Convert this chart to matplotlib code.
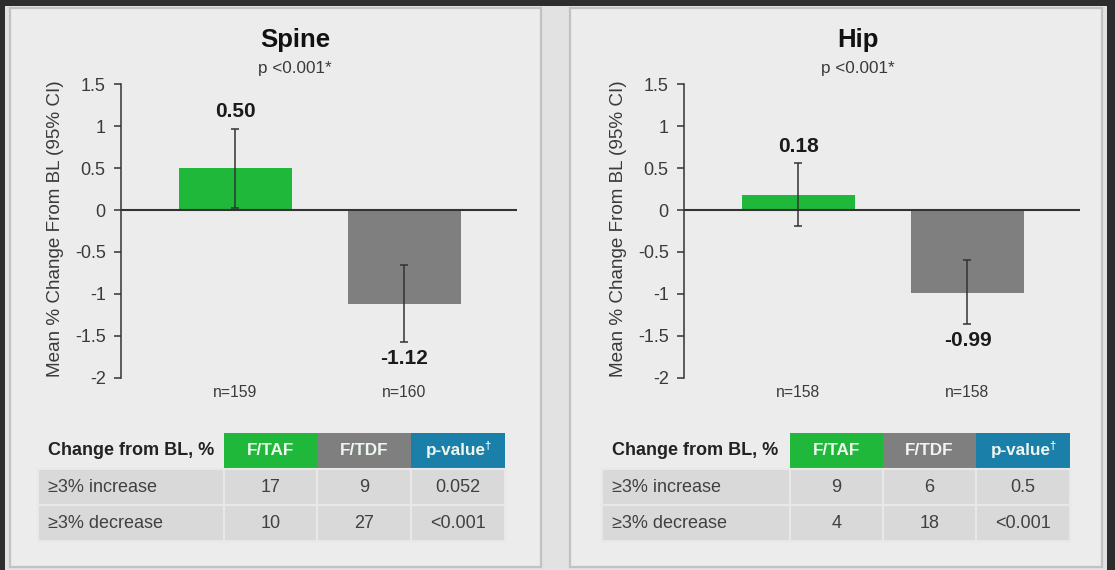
"""Bone mineral density change from baseline at spine and hip, F/TAF vs F/TDF,
with a small categorical-shift table under each bar chart."""
import matplotlib
matplotlib.use("Agg")
import matplotlib.pyplot as plt
from matplotlib.patches import Rectangle
from matplotlib.transforms import blended_transform_factory

plt.rcParams["font.family"] = ["Liberation Sans", "DejaVu Sans"]

# ---- data -----------------------------------------------------------------
SITES = ["Spine", "Hip"]
P_TEXT = ["p <0.001*", "p <0.001*"]
GROUPS = ["F/TAF", "F/TDF"]

SPINE_MEAN = [0.50, -1.12]
SPINE_CI_LO = [0.03, -1.58]
SPINE_CI_HI = [0.97, -0.66]
SPINE_N = [159, 160]

HIP_MEAN = [0.18, -0.99]
HIP_CI_LO = [-0.19, -1.36]
HIP_CI_HI = [0.56, -0.60]
HIP_N = [158, 158]

Y_TICKS = [1.5, 1, 0.5, 0, -0.5, -1, -1.5, -2]
Y_TICK_LABELS = ["1.5", "1", "0.5", "0", "-0.5", "-1", "-1.5", "-2"]
Y_LABEL = "Mean % Change From BL (95% CI)"

TABLE_HEADER = ["Change from BL, %", "F/TAF", "F/TDF", "p-value"]
HEADER_MARK = ["", "", "", "†"]
ROW_LABELS = ["≥3% increase", "≥3% decrease"]
SPINE_TABLE = [["17", "9", "0.052"], ["10", "27", "<0.001"]]
HIP_TABLE = [["9", "6", "0.5"], ["4", "18", "<0.001"]]

# ---- style ----------------------------------------------------------------
GREEN = "#1fb83b"
GRAY = "#7f7f7f"
BLUE = "#1a7fa9"
BAR_COLORS = [GREEN, GRAY]
HEAD_COLORS = [None, GREEN, GRAY, BLUE]
DARK = "#2d2d2d"
PANEL = "#ececec"
TXT = "#3a3a3a"
TABLE_FS = 13

W, H = 1115, 570
fig = plt.figure(figsize=(W / 100, H / 100), dpi=100, facecolor=DARK)
renderer = fig.canvas.get_renderer()

# full-figure pixel canvas for the panels and the tables
bg = fig.add_axes([0, 0, 1, 1])
bg.set_xlim(0, W)
bg.set_ylim(H, 0)
bg.axis("off")
bg.add_patch(Rectangle((5, 6), 1102, 566, facecolor="#e2e2e2", edgecolor="none"))

panels = [
    dict(x0=10, x1=541, ax_left=121, cx=295, table_cols=[38, 224, 317, 411, 505]),
    dict(x0=570, x1=1102, ax_left=684, cx=858, table_cols=[602, 790, 883, 976, 1070]),
]
series = [
    (SPINE_MEAN, SPINE_CI_LO, SPINE_CI_HI, SPINE_N, SPINE_TABLE),
    (HIP_MEAN, HIP_CI_LO, HIP_CI_HI, HIP_N, HIP_TABLE),
]

AX_TOP, AX_BOT, AX_W = 84.3, 377.7, 396
ROW_EDGES = [432.5, 469, 505, 541]


def header_text(xc, yc, label, mark):
    """Centre a bold header label, with an optional small raised mark after it."""
    t1 = bg.text(0, yc, label, ha="left", va="center", fontsize=12.3,
                 fontweight="bold", color="#eef6ee")
    if not mark:
        t1.set_ha("center")
        t1.set_x(xc)
        return
    t2 = bg.text(0, yc - 5, mark, ha="left", va="center", fontsize=8,
                 fontweight="bold", color="#eef6ee")
    w1 = t1.get_window_extent(renderer).width
    w2 = t2.get_window_extent(renderer).width
    left = xc - (w1 + w2 - 1) / 2
    t1.set_x(left)
    t2.set_x(left + w1 - 1)


for site, ptxt, pan, (mean, lo, hi, ns, tab) in zip(SITES, P_TEXT, panels, series):
    bg.add_patch(Rectangle((pan["x0"], 8), pan["x1"] - pan["x0"], 559,
                           facecolor=PANEL, edgecolor="#c2c2c2", lw=1.6))

    ax = fig.add_axes([pan["ax_left"] / W, 1 - AX_BOT / H,
                       AX_W / W, (AX_BOT - AX_TOP) / H])
    ax.set_facecolor("none")
    x = list(range(len(GROUPS)))
    ax.bar(x, mean, width=0.665, color=BAR_COLORS, zorder=2)
    yerr = [[m - l for m, l in zip(mean, lo)], [h - m for m, h in zip(mean, hi)]]
    ax.errorbar(x, mean, yerr=yerr, fmt="none", ecolor="#333333",
                elinewidth=1.1, capsize=3, capthick=1.1, zorder=3)
    ax.axhline(0, color="#333333", lw=1.5, zorder=4)
    ax.set_xlim(-0.675, 1.665)
    ax.set_ylim(-2, 1.5)
    ax.set_yticks(Y_TICKS)
    ax.set_yticklabels(Y_TICK_LABELS)
    ax.set_xticks([])
    for s in ("top", "right", "bottom"):
        ax.spines[s].set_visible(False)
    ax.spines["left"].set_color("#333333")
    ax.spines["left"].set_linewidth(1.1)
    ax.tick_params(axis="y", direction="out", length=5, width=1.1,
                   color="#333333", labelcolor=TXT, labelsize=13, pad=6)
    ax.set_ylabel(Y_LABEL, fontsize=13.6, color=TXT)
    ax.yaxis.set_label_coords(-0.145, 0.507)

    # value labels sit just past the end of each CI
    for xi, m, l, h in zip(x, mean, lo, hi):
        anchor, dy = (h, 17) if m >= 0 else (l, -16)
        ax.annotate(f"{m:.2f}", (xi, anchor), xytext=(0, dy), textcoords="offset pixels",
                    ha="center", va="center", fontsize=15, fontweight="bold",
                    color="#1a1a1a")

    trans = blended_transform_factory(ax.transData, ax.transAxes)
    for xi, n in zip(x, ns):
        ax.text(xi, -0.049, f"n={n}", transform=trans, ha="center", va="center",
                fontsize=11.3, color=TXT)

    bg.text(pan["cx"], 40, site, ha="center", va="center", fontsize=18.5,
            fontweight="bold", color="#111111")
    bg.text(pan["cx"], 68, ptxt, ha="center", va="center", fontsize=12.3, color=TXT)

    # categorical-shift table
    cols = pan["table_cols"]
    y0, y1 = ROW_EDGES[0], ROW_EDGES[1]
    for j, (label, mark, col) in enumerate(zip(TABLE_HEADER, HEADER_MARK, HEAD_COLORS)):
        if col is None:
            bg.text(cols[0] + 10, (y0 + y1) / 2, label, ha="left", va="center",
                    fontsize=TABLE_FS, fontweight="bold", color="#222222")
        else:
            bg.add_patch(Rectangle((cols[j], y0), cols[j + 1] - cols[j], y1 - y0,
                                   facecolor=col, edgecolor="none"))
            header_text((cols[j] + cols[j + 1]) / 2, (y0 + y1) / 2, label, mark)
    for i, (rlabel, row) in enumerate(zip(ROW_LABELS, tab)):
        ra, rb = ROW_EDGES[i + 1], ROW_EDGES[i + 2]
        cells = [rlabel] + row
        for j, val in enumerate(cells):
            bg.add_patch(Rectangle((cols[j], ra), cols[j + 1] - cols[j], rb - ra,
                                   facecolor="#d9d9d9", edgecolor="#e8e8e8", lw=1.5))
            if j == 0:
                bg.text(cols[0] + 10, (ra + rb) / 2, val, ha="left", va="center",
                        fontsize=TABLE_FS, color="#404040")
            else:
                bg.text((cols[j] + cols[j + 1]) / 2, (ra + rb) / 2, val, ha="center",
                        va="center", fontsize=TABLE_FS, color="#404040")

fig.savefig("out.png", dpi=100, facecolor=fig.get_facecolor())
